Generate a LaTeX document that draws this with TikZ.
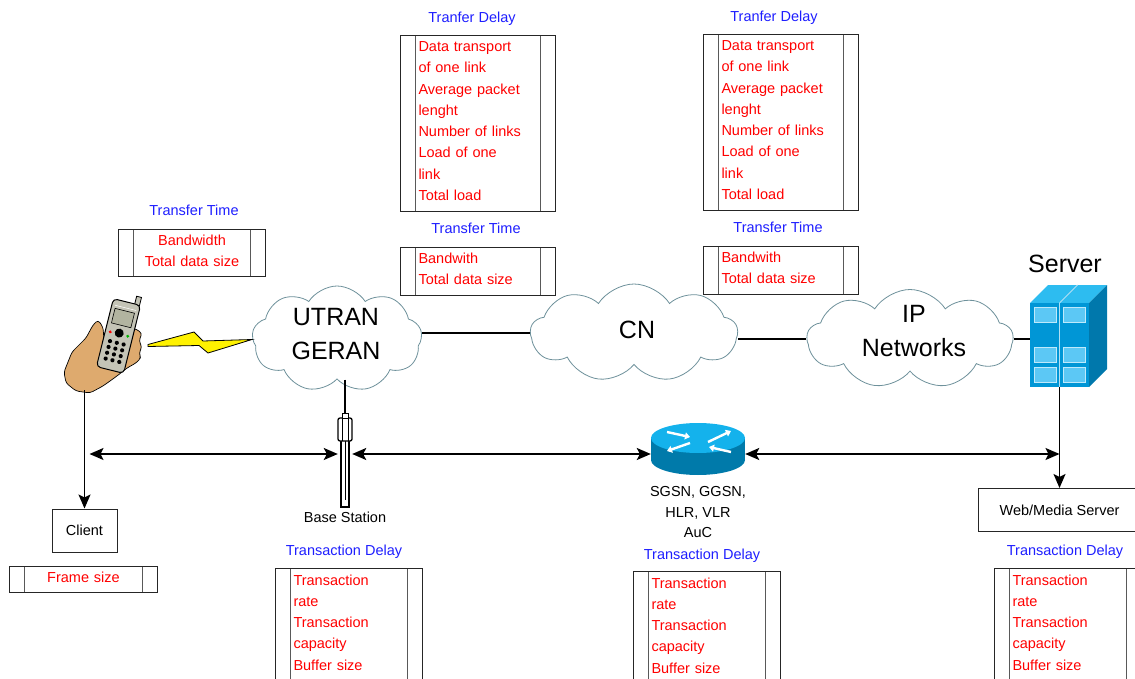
\documentclass[tikz,border=0pt]{standalone}
\usepackage{fontspec}
\setmainfont{Liberation Sans}
\usetikzlibrary{shapes.symbols,arrows.meta,positioning}

\definecolor{cloudline}{RGB}{110,145,155}
\definecolor{titleblue}{RGB}{30,30,255}
\definecolor{skin}{RGB}{222,170,110}
\definecolor{phonebody}{RGB}{196,196,182}
\definecolor{phonescreen}{RGB}{178,180,160}
\definecolor{rtrtop}{RGB}{20,178,236}
\definecolor{rtrside}{RGB}{0,122,170}
\definecolor{srvfront}{RGB}{0,150,214}
\definecolor{srvtop}{RGB}{45,188,240}
\definecolor{srvside}{RGB}{0,120,172}
\definecolor{srvwin}{RGB}{92,200,245}

\newcommand\lblfont{\fontsize{14.5}{21.3}\selectfont}
\newcommand\cloudfont{\fontsize{25}{34}\selectfont}

\tikzset{
  qbox/.style={draw=black!85, line width=1pt, fill=white, text=red, font=\lblfont, anchor=north west,
    inner xsep=18pt, inner ysep=0pt, execute at end node={\rule[-5pt]{0pt}{5pt}},
    path picture={\draw[line width=1.5pt, black!65]
      ([xshift=15pt]path picture bounding box.north west) -- ([xshift=15pt]path picture bounding box.south west)
      ([xshift=-15pt]path picture bounding box.north east) -- ([xshift=-15pt]path picture bounding box.south east);}},
  qleft/.style={qbox, align=left},
  qmid/.style={qbox, align=center},
  qtitle/.style={text=titleblue, font=\lblfont},
  netcloud/.style={cloud, cloud puffs=9, cloud puff arc=115, aspect=1.9, draw=cloudline, fill=white, line width=0.8pt, inner sep=0pt},
  cloudtxt/.style={font=\cloudfont, align=center},
  plainbox/.style={draw=black!85, line width=1pt, font=\lblfont, minimum height=43pt},
  link/.style={line width=1.6pt},
  flow/.style={line width=1.6pt, {Stealth[length=14pt,width=12pt,inset=3pt]}-{Stealth[length=14pt,width=12pt,inset=3pt]}},
  feed/.style={line width=1.6pt, -{Stealth[length=14pt,width=12pt,inset=3pt]}},
  whitearr/.style={draw=white, line width=2.4pt, -{Triangle[length=5pt,width=7pt]}}
}

\begin{document}
\begin{tikzpicture}[x=1pt,y=-1pt]
  \useasboundingbox (0,0) rectangle (1135,679);
  \clip (0,0) rectangle (1135,679);

  % network clouds
  \node[netcloud, minimum width=170pt, minimum height=106pt] (utran) at (337,339) {};
  \node[cloudtxt] (utranlab) at (336,334) {UTRAN\\GERAN};
  \node[netcloud, minimum width=207pt, minimum height=98pt] (cn) at (634,333) {};
  \node[cloudtxt] (cnlab) at (637,330) {CN};
  \node[netcloud, minimum width=206pt, minimum height=99pt] (ipn) at (910,339) {};
  \node[cloudtxt] (ipnlab) at (914,331) {IP\\Networks};

  % end points and network elements
  \node[minimum width=80pt, minimum height=100pt, inner sep=0pt] (phone) at (105,340) {};
  \node[minimum width=14pt, minimum height=94pt, inner sep=0pt] (bs) at (345,460) {};
  \node[minimum width=94pt, minimum height=52pt, inner sep=0pt] (rtr) at (698,449) {};
  \node[minimum width=59pt, minimum height=84pt, inner sep=0pt] (server) at (1059.5,345) {};
  \node[font=\cloudfont] (srvlab) at (1065,264) {Server};

  \node[plainbox, minimum width=65pt] (client) at (84.5,530.5) {Client};
  \node[plainbox, minimum width=163pt] (web) at (1059.5,510) {Web/Media Server};
  \node[font=\lblfont, below=1pt of bs] (bslab) {Base Station};
  \node[font=\fontsize{14.5}{20.5}\selectfont, align=center, below=8pt of rtr] (rtrlab) {SGSN, GGSN,\\HLR, VLR\\AuC};

  % links between the clouds
  \draw[link] (utran.east |- cn.west) -- (cn.west);
  \draw[link] (cn.east |- ipn.west) -- (ipn.west);
  \draw[link] (ipn.east) -- (server.west |- ipn.east);
  \draw[link] (bs.north |- utran.south) -- (bs.north);

  % radio link
  \draw[line width=0.8pt, fill=yellow] (148,344.5) -- (194,332) -- (203,341) -- (252,339.5)
    -- (208,353) -- (199,345.5) -- (148,346.5) -- cycle;

  % hand and handset
  \draw[line width=0.7pt, fill=skin, rounded corners=3pt] (64,372) -- (72,352) -- (86,338) -- (93,325)
    -- (98,320) -- (103,327) -- (104,340) -- (134,328) -- (142,333) -- (139,341) -- (142,347)
    -- (139,353) -- (141,358) -- (136,363) -- (127,368) -- (117,376) -- (103,386) -- (90,393)
    -- (76,391) -- (66,383) -- cycle;
  \begin{scope}[shift={(118.5,336)}, rotate=-14]
    \draw[line width=0.8pt, fill=phonebody] (8,-43) rectangle (13,-34);
    \draw[line width=1pt, fill=phonebody, rounded corners=4pt] (-14,-35) rectangle (14,35);
    \draw[line width=0.5pt, draw=white] (-11,-29) -- (11,-29);
    \draw[line width=0.6pt, fill=phonescreen] (-10,-26) rectangle (10,-11);
    \fill (0,-3) circle[radius=4.5pt];
    \fill[red] (-9,-2) circle[radius=1.6pt];
    \fill[green!70!black] (9,-2) circle[radius=1.6pt];
    \foreach \kx in {-7,0,7}
      \foreach \ky in {7,13,19,25}
        \fill (\kx,\ky) circle[radius=2.1pt];
  \end{scope}

  % base station antenna
  \draw[line width=1.3pt, fill=white] (341,440) rectangle (349,507);
  \draw[line width=0.7pt] (345,441) -- (345,500);
  \draw[line width=1.3pt, fill=white, rounded corners=2pt] (338,418) rectangle (352,441);
  \draw[line width=1pt] (342,418) -- (342,441) (348,418) -- (348,441);
  \draw[line width=1pt, fill=white] (342,413) rectangle (348,418);

  % router
  \fill[rtrside] (698,460) ellipse[x radius=47pt, y radius=15pt];
  \fill[rtrside] (651,438) rectangle (745,460);
  \fill[rtrtop] (698,438) ellipse[x radius=47pt, y radius=15pt];
  \draw[whitearr] (667,432) -- (690,437);
  \draw[whitearr] (708,442) -- (731,431);
  \draw[whitearr] (690,443) -- (667,451);
  \draw[whitearr] (731,452) -- (709,447);

  % server rack
  \fill[srvtop] (1030,303) -- (1048,285) -- (1107,285) -- (1089,303) -- cycle;
  \fill[srvside] (1089,303) -- (1107,285) -- (1107,369) -- (1089,387) -- cycle;
  \fill[srvfront] (1030,303) rectangle (1089,387);
  \draw[white!70!srvfront, line width=0.8pt] (1059.5,303) -- (1059.5,387) (1059.5,303) -- (1077.5,285);
  \foreach \wy in {307,347,367}{
    \draw[fill=srvwin, draw=white!60!srvwin, line width=0.6pt] (1034,\wy) rectangle (1056,\wy+15);
    \draw[fill=srvwin, draw=white!60!srvwin, line width=0.6pt] (1063,\wy) rectangle (1085,\wy+15);
  }

  % message flows
  \coordinate (bus) at (0,454);
  \draw[feed] (client.north |- phone.south) -- (client.north);
  \draw[feed] (server.south) -- (web.north);
  \draw[flow] ([xshift=5pt]client.north |- bus) -- (bs.west |- bus);
  \draw[flow] (bs.east |- bus) -- (rtr.west |- bus);
  \draw[flow] (rtr.east |- bus) -- (web.north |- bus);

  % parameter tables
  \node[qtitle] (dlt1) at (472,19) {Tranfer Delay};
  \node[qleft, text width=119pt, minimum height=176pt] (dly1) at (400,35)
    {Data transport\\of one link\\Average packet\\lenght\\Number of links\\Load of one\\link\\Total load};
  \node[qtitle] (dlt2) at (774,18) {Tranfer Delay};
  \node[qleft, text width=119pt, minimum height=176pt] (dly2) at (703,34)
    {Data transport\\of one link\\Average packet\\lenght\\Number of links\\Load of one\\link\\Total load};

  \node[qtitle] (tmt1) at (194,210) {Transfer Time};
  \node[qmid, text width=111pt, minimum height=47pt] (tim1) at (118,229) {Bandwidth\\Total data size};
  \node[qtitle] (tmt2) at (476,228) {Transfer Time};
  \node[qleft, text width=119pt, minimum height=48pt] (tim2) at (400,247) {Bandwith\\Total data size};
  \node[qtitle] (tmt3) at (778,227) {Transfer Time};
  \node[qleft, text width=119pt, minimum height=48pt] (tim3) at (703,246) {Bandwith\\Total data size};

  \node[qmid, text width=112pt, minimum height=26pt] (frm) at (9,566) {Frame size};

  \node[qtitle] (trt1) at (344,552) {Transaction Delay};
  \node[qleft, text width=111pt, inner ysep=6pt] (trn1) at (275,568)
    {Transaction\\rate\\Transaction\\capacity\\Buffer size\\\strut};
  \node[qtitle] (trt2) at (702,556) {Transaction Delay};
  \node[qleft, text width=111pt, inner ysep=6pt] (trn2) at (633,571)
    {Transaction\\rate\\Transaction\\capacity\\Buffer size\\\strut};
  \node[qtitle] (trt3) at (1065,552) {Transaction Delay};
  \node[qleft, text width=111pt, inner ysep=6pt] (trn3) at (994,568)
    {Transaction\\rate\\Transaction\\capacity\\Buffer size\\\strut};
\end{tikzpicture}
\end{document}
